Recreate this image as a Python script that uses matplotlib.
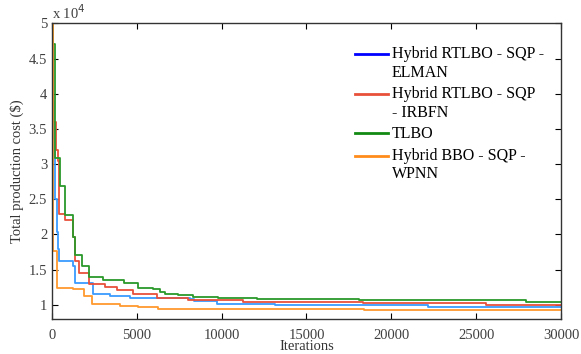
import numpy as np
import matplotlib
matplotlib.use("Agg")
import matplotlib.pyplot as plt
from matplotlib.ticker import FuncFormatter, MultipleLocator
from matplotlib.lines import Line2D
from matplotlib.legend_handler import HandlerLine2D

plt.rcParams['font.family'] = ['Liberation Serif', 'DejaVu Serif']

# best cost so far vs iteration (step curves)
elman_x = [0, 20, 100, 177, 275, 380, 432, 1218, 1356, 2437, 3419, 3616, 4598, 8135, 8350, 9707, 13144, 22180, 30000]
elman_y = [41500, 39000, 33500, 25000, 20300, 18000, 16260, 15470, 13130, 11500, 11300, 11300, 11030, 10800, 10560, 10100, 9980, 9720, 9720]

irbfn_x = [0, 40, 230, 330, 400, 432, 766, 1218, 1356, 1611, 2201, 3124, 3812, 4755, 6170, 8037, 11277, 14322, 18350, 25580, 30000]
irbfn_y = [50000, 36000, 32000, 30500, 27500, 22900, 22000, 19580, 16260, 14530, 12900, 12570, 12100, 11500, 11030, 10760, 10480, 10340, 10200, 9960, 9960]

tlbo_x = [0, 30, 177, 472, 766, 1218, 1356, 1788, 2201, 3026, 4244, 5089, 5974, 6367, 6661, 7447, 8292, 9805, 12063, 18115, 27937, 30000]
tlbo_y = [50000, 47000, 30900, 26900, 22700, 19670, 17100, 15470, 13970, 13500, 13040, 12430, 12200, 11820, 11500, 11400, 11170, 11000, 10860, 10670, 10480, 10480]

wpnn_x = [0, 79, 314, 1258, 1906, 2339, 4009, 5089, 6268, 18386, 30000]
wpnn_y = [50000, 17660, 12430, 12200, 11300, 10090, 9860, 9630, 9450, 9250, 9250]

labels = ['Hybrid RTLBO - SQP -\nELMAN', 'Hybrid RTLBO - SQP\n- IRBFN', 'TLBO', 'Hybrid BBO - SQP -\nWPNN']
line_cols = ['#3a9bff', '#e8503a', '#2a9a2a', '#ff9a2e']
leg_cols = ['#0000ff', '#e8503a', '#128a12', '#ff8c1a']


# put the legend line next to the first text line of a 2-line label
class TopLine(HandlerLine2D):
    def create_artists(self, legend, orig_handle, xdescent, ydescent, width, height, fontsize, trans):
        arts = super().create_artists(legend, orig_handle, xdescent, ydescent, width, height, fontsize, trans)
        for a in arts:
            a.set_ydata(np.asarray(a.get_ydata()) + 0.62 * fontsize)
        return arts


fig = plt.figure(figsize=(5.81, 3.54), dpi=100)
ax = fig.add_axes([0.0895, 0.099, 0.876, 0.835])

series = [(elman_x, elman_y), (irbfn_x, irbfn_y), (tlbo_x, tlbo_y), (wpnn_x, wpnn_y)]
for (sx, sy), c in zip(series, line_cols):
    ax.plot(sx, sy, color=c, lw=1.3, drawstyle='steps-post')

ax.set_xlim(0, 30000)
ax.set_ylim(8000, 50000)
ax.xaxis.set_major_locator(MultipleLocator(5000))
ax.yaxis.set_major_locator(MultipleLocator(5000))
ax.yaxis.set_major_formatter(FuncFormatter(lambda v, p: '%g' % (v / 1e4)))
ax.tick_params(direction='in', top=True, right=True, length=4, width=0.8,
               labelsize=10.5, labelcolor='#404040')
ax.tick_params(axis='x', pad=7)
for s in ax.spines.values():
    s.set_color('#333333')
    s.set_linewidth(1.0)

ax.set_xlabel('Iterations', fontsize=10.5, color='#333333', labelpad=-1)
ax.set_ylabel('Total production cost ($)', fontsize=10.5, color='#333333', labelpad=3)
ax.text(0.0, 1.005, 'x 10$^4$', transform=ax.transAxes, fontsize=10.5,
        color='#404040', ha='left', va='bottom')

handles = [Line2D([], [], color=c, lw=2) for c in leg_cols]
hmap = {handles[0]: TopLine(), handles[1]: TopLine(), handles[3]: TopLine()}
ax.legend(handles, labels, handler_map=hmap, loc='upper right', bbox_to_anchor=(0.985, 0.955),
          frameon=False, fontsize=11.5, handlelength=2.1, handletextpad=0.2,
          labelspacing=0.35, borderaxespad=0.2)

fig.savefig('out.png', dpi=100)
